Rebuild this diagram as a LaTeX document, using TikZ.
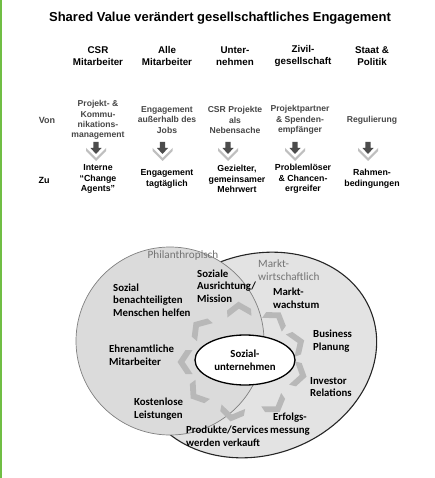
\documentclass[tikz,border=0pt]{standalone}
\usepackage{fontspec}
\setmainfont{Liberation Sans}
\newfontfamily\carl{Carlito}
\usetikzlibrary{shapes.geometric}
\definecolor{edgegreen}{RGB}{112,190,68}
\begin{document}
\begin{tikzpicture}[x=1pt,y=1pt,
  titletxt/.style={font=\fontsize{13}{15}\selectfont\bfseries, inner sep=0},
  hdr/.style={font=\fontsize{9.8}{12}\selectfont\bfseries, align=center, inner sep=0},
  rowlbl/.style={font=\fontsize{9}{11}\selectfont\bfseries, inner sep=0},
  vontxt/.style={font=\fontsize{8.6}{10.4}\selectfont\bfseries, align=center, inner sep=0, text=black!72},
  zutxt/.style={font=\fontsize{8.8}{10.6}\selectfont\bfseries, align=center, inner sep=0},
  lbl/.style={font=\carl\fontsize{10.8}{12.6}\selectfont\bfseries, align=left, inner sep=0, anchor=west},
  glbl/.style={font=\carl\fontsize{11.2}{13.5}\selectfont, text=black!55, inner sep=0},
  chevpic/.pic={\fill[black!28] (-7.5,12) -- (0.5,0) -- (-7.5,-12) -- (-0.5,-12) -- (7.5,0) -- (-0.5,12) -- cycle;},
  downpic/.pic={
    \fill[black!25] (-10,6) -- (0,-4) -- (10,6) -- (10,3) -- (0,-7) -- (-10,3) -- cycle;
    \fill[black!70] (-2.6,12) -- (2.6,12) -- (2.6,6) -- (5.5,6) -- (0,0) -- (-5.5,6) -- (-2.6,6) -- cycle;}
]
\useasboundingbox (0,0) rectangle (435,-478);
\fill[white] (0,0) rectangle (435,-478);
\fill[edgegreen] (0,0) rectangle (2,-478);

% title
\node[titletxt] (title) at (220,-18) {Shared Value verändert gesellschaftliches Engagement};

% column headers
\node[hdr] (h1) at (98,-56) {CSR\\Mitarbeiter};
\node[hdr] (h2) at (167,-56) {Alle\\Mitarbeiter};
\node[hdr] (h3) at (235,-56) {Unter-\\nehmen};
\node[hdr] (h4) at (303,-56) {Zivil-\\gesellschaft};
\node[hdr] (h5) at (372,-56) {Staat \&\\Politik};

% Von row
\node[rowlbl, text=black!72] (von) at (47,-120) {Von};
\node[vontxt] (v1) at (98,-120) {Projekt- \&\\Kommu-\\nikations-\\management};
\node[vontxt] (v2) at (167,-120) {Engagement\\außerhalb des\\Jobs};
\node[vontxt] (v3) at (235,-120) {CSR Projekte\\als\\Nebensache};
\node[vontxt] (v4) at (300,-120) {Projektpartner\\\& Spenden-\\empfänger};
\node[vontxt] (v5) at (372,-120) {Regulierung};

% arrows
\path (96,-154) pic {downpic};
\path (162.5,-154) pic {downpic};
\path (228,-154) pic {downpic};
\path (295,-154) pic {downpic};
\path (368,-154) pic {downpic};

% Zu row
\node[rowlbl] (zu) at (44,-180) {Zu};
\node[zutxt] (z1) at (98,-179) {Interne\\“Change\\Agents”};
\node[zutxt] (z2) at (167,-179) {Engagement\\tagtäglich};
\node[zutxt] (z3) at (237,-179) {Gezielter,\\gemeinsamer\\Mehrwert};
\node[zutxt] (z4) at (303,-179) {Problemlöser\\\& Chancen-\\ergreifer};
\node[zutxt] (z5) at (372,-179) {Rahmen-\\bedingungen};

% Venn shapes
\draw[fill=black!11, draw=black!85, line width=1.1pt, rotate around={20:(257,-355)}] (257,-355) ellipse (122 and 100);
\draw[fill=black!14, draw=black!50, line width=0.7pt] (170,-341) circle (94);

% chevron ring
\foreach \a in {94,139,180,217,259,304,346,21,55}
  \path (243,-362) ++(\a:58 and 53) pic[rotate=\a] {chevpic};

% centre
\node[ellipse, draw, line width=1.3pt, fill=white, minimum width=100pt, minimum height=50pt, inner sep=0,
      align=center, font=\carl\fontsize{10.8}{12.6}\selectfont\bfseries] (core) at (245,-360) {Sozial-\\unternehmen};

% labels
\node[glbl] (phil) at (183,-256) {Philanthropisch};
\node[glbl, align=left, anchor=west] (markt) at (258,-270) {Markt-\\wirtschaftlich};
\node[lbl] (l1) at (197,-286) {Soziale\\Ausrichtung/\\Mission};
\node[lbl] (l2) at (113,-300) {Sozial\\benachteiligten\\Menschen helfen};
\node[lbl] (l3) at (273,-298) {Markt-\\wachstum};
\node[lbl] (l4) at (313,-341) {Business\\Planung};
\node[lbl] (l5) at (109,-355) {Ehrenamtliche\\Mitarbeiter};
\node[lbl] (l6) at (310,-387) {Investor\\Relations};
\node[lbl] (l7) at (134,-409) {Kostenlose\\Leistungen};
\node[lbl, align=center, anchor=center] (l8) at (290,-424) {Erfolgs-\\messung};
\node[lbl] (l9) at (186,-436) {Produkte/Services\\werden verkauft};
\end{tikzpicture}
\end{document}
